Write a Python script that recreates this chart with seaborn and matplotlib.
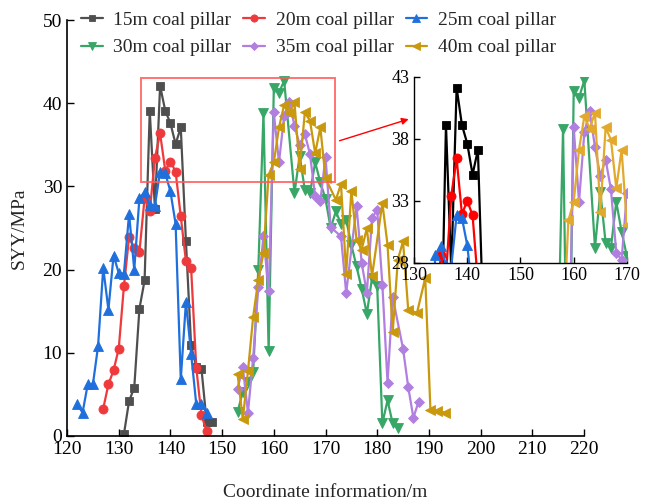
import matplotlib
matplotlib.use("Agg")
import matplotlib.pyplot as plt
import seaborn as sns
import pandas as pd

# Stress (SYY, MPa) along the measuring line for each coal pillar width
x15 = [131, 132, 133, 134, 135, 136, 137, 138, 139, 140, 141, 142, 143, 144, 145, 146, 147, 148]
y15 = [0.2, 4.2, 5.8, 15.3, 18.7, 39.1, 27.3, 42.1, 39.1, 37.6, 35.1, 37.1, 23.4, 10.9, 8.3, 8.1, 1.7, 1.7]

x20 = [127, 128, 129, 130, 131, 132, 133, 134, 135, 136, 137, 138, 139, 140, 141, 142, 143, 144, 145, 146, 147]
y20 = [3.3, 6.2, 7.9, 10.5, 18.0, 23.9, 22.6, 22.1, 28.6, 27.0, 33.4, 36.4, 31.9, 33.0, 31.8, 26.4, 21.0, 20.2, 8.2, 2.5, 0.6]

x25 = [122, 123, 124, 125, 126, 127, 128, 129, 130, 131, 132, 133, 134, 135, 136, 137, 138, 139, 140, 141, 142, 143, 144, 145, 146, 147]
y25 = [3.8, 2.8, 6.2, 6.2, 10.8, 20.2, 15.2, 21.7, 19.6, 19.5, 26.7, 20.0, 28.6, 29.3, 27.8, 27.7, 31.8, 31.6, 29.4, 25.5, 6.8, 16.1, 9.9, 3.8, 3.8, 2.8]

x30 = [153, 154, 155, 156, 157, 158, 159, 160, 161, 162, 164, 165, 166, 167, 168, 169, 170, 171, 172, 173, 174, 175, 176, 177, 178, 179, 180, 181, 182, 183, 184]
y30 = [2.9, 5.3, 6.5, 7.7, 20.0, 38.8, 10.2, 41.8, 41.3, 42.7, 29.2, 33.7, 29.6, 29.2, 32.9, 30.5, 28.5, 25.0, 27.0, 25.5, 26.0, 23.0, 20.4, 17.7, 14.7, 19.0, 18.0, 1.5, 4.3, 1.5, 0.9]

x35 = [153, 154, 155, 156, 157, 158, 159, 160, 161, 162, 163, 164, 165, 166, 167, 168, 169, 170, 171, 173, 174, 176, 177, 178, 179, 180, 181, 182, 183, 185, 186, 187, 188]
y35 = [5.7, 8.3, 2.8, 9.4, 17.9, 24.0, 17.4, 38.9, 32.9, 38.5, 40.2, 37.3, 35.0, 36.3, 33.9, 28.8, 28.2, 33.6, 25.1, 24.0, 17.2, 27.6, 20.8, 17.2, 26.2, 27.2, 18.2, 6.4, 16.7, 10.5, 5.9, 2.2, 4.1]

x40 = [153, 154, 155, 156, 157, 158, 159, 160, 161, 162, 163, 164, 165, 166, 167, 168, 169, 170, 172, 173, 174, 175, 176, 177, 178, 179, 181, 182, 183, 184, 185, 186, 187.7, 189.3, 190.3, 191.6, 193.2]
y40 = [7.4, 2.0, 7.8, 14.3, 18.8, 22.0, 31.4, 32.9, 37.1, 39.8, 38.8, 40.1, 32.1, 38.9, 37.9, 34.0, 37.1, 31.0, 28.4, 30.3, 19.5, 29.5, 23.6, 22.4, 25.0, 19.2, 28.0, 23.0, 12.5, 21.2, 23.4, 15.2, 14.8, 19.0, 3.1, 3.0, 2.8]

labels = ["15m coal pillar", "20m coal pillar", "25m coal pillar",
          "30m coal pillar", "35m coal pillar", "40m coal pillar"]
xs = [x15, x20, x25, x30, x35, x40]
ys = [y15, y20, y25, y30, y35, y40]
markers = ["s", "o", "^", "v", "D", "<"]
msizes = [6, 6.5, 7, 7, 5.5, 7]
colors_main = ["#4f4f4f", "#ee3a3d", "#1f6fdc", "#37a666", "#b07fe0", "#c9980d"]
colors_zoom = ["#000000", "#ff0000", "#1f6fdc", "#37a666", "#b07fe0", "#e2a92c"]

sns.set_theme(style="ticks")
plt.rcParams["font.family"] = ["Liberation Serif", "DejaVu Serif"]
plt.rcParams["mathtext.fontset"] = "stix"

fig = plt.figure(figsize=(6.51, 5.04), dpi=100)
ax = fig.add_axes([0.103, 0.135, 0.794, 0.825])


def draw_series(axis, palette, lw):
    for lab, xv, yv, mk, ms, col in zip(labels, xs, ys, markers, msizes, palette):
        df = pd.DataFrame({"x": xv, "y": yv})
        sns.lineplot(data=df, x="x", y="y", ax=axis, color=col, marker=mk,
                     markersize=ms, markeredgecolor=col, markeredgewidth=0.6,
                     linewidth=lw, estimator=None, sort=False, label=lab,
                     legend=False)


draw_series(ax, colors_main, 1.6)

ax.set_xlim(120, 220)
ax.set_ylim(0, 50)
ax.set_xticks(range(120, 221, 10))
ax.set_yticks(range(0, 51, 10))
ax.tick_params(direction="in", length=5, width=1, labelsize=14, colors="black")
for s in ["top", "right"]:
    ax.spines[s].set_visible(False)
for s in ["left", "bottom"]:
    ax.spines[s].set_linewidth(1.2)
    ax.spines[s].set_color("black")
ax.set_xlabel("Coordinate information/m", fontsize=14, labelpad=19)
ax.set_ylabel("SYY/MPa", fontsize=14, labelpad=11)

# highlighted window and pointer to the enlarged view
rect = plt.Rectangle((134.3, 30.5), 37.5, 12.6, fill=False, edgecolor="#ff5a5a",
                     linewidth=1.4, alpha=0.85, zorder=5)
ax.add_patch(rect)
ax.annotate("", xy=(186.6, 38.2), xytext=(172.2, 35.4),
            arrowprops=dict(arrowstyle="-|>", color="#ff0000", lw=1.0,
                            mutation_scale=10), zorder=6)

# legend across the top, filled row by row
handles, _ = ax.get_legend_handles_labels()
order = [0, 3, 1, 4, 2, 5]
fig.legend([handles[i] for i in order], [labels[i] for i in order],
           loc="upper left", bbox_to_anchor=(0.098, 1.012),
           ncol=3, frameon=False, fontsize=14, handlelength=1.1,
           handletextpad=0.55, columnspacing=0.62, labelspacing=0.5,
           markerscale=0.8)

# enlarged view
axin = fig.add_axes([0.636, 0.479, 0.327, 0.369])
axin.set_facecolor("none")
draw_series(axin, colors_zoom, 1.6)
axin.set_xlim(130, 170)
axin.set_ylim(28, 43)
axin.set_xticks(range(130, 171, 10))
axin.set_yticks([28, 33, 38, 43])
axin.set_xlabel("")
axin.set_ylabel("")
axin.tick_params(direction="in", length=4, width=1, labelsize=13, colors="black")
for s in ["top", "right"]:
    axin.spines[s].set_visible(False)
for s in ["left", "bottom"]:
    axin.spines[s].set_linewidth(1.0)
    axin.spines[s].set_color("black")

fig.savefig("out.png", dpi=100)
